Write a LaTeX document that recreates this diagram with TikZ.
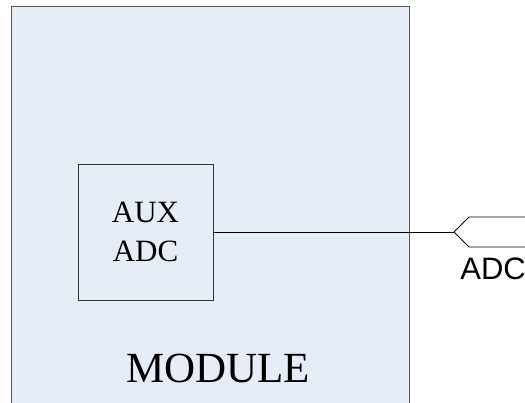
\documentclass[tikz,border=0pt]{standalone}
\usepackage{fontspec}
\setmainfont{Liberation Serif}
\newfontfamily\arialfont{Liberation Sans}
\usetikzlibrary{positioning}
\definecolor{modfill}{HTML}{E6EDF7}

\begin{document}
\begin{tikzpicture}[x=1pt, y=-1pt, line width=0.8pt]
	\useasboundingbox (0,0) rectangle (525,403);
	\draw [fill=modfill, draw=black!65] (11,6) rectangle (409,430);
	\node (aux) [draw=black!80, minimum width=135pt, minimum height=136pt, align=center, font=\fontsize{31}{39}\selectfont] at (145.5,232) {AUX\\ADC};
	\node (module) [anchor=base, inner sep=0pt, font=\fontsize{43}{43}\selectfont] at (218,382) {MODULE};
	\coordinate (tip) at (454,232);
	\draw (tip) -- ++(15,-15) -- (540,217);
	\draw (tip) -- ++(15,15) -- (540,247);
	\draw (aux) -- (tip);
	\node (adc) [anchor=base west, inner sep=0pt, font=\arialfont\fontsize{31}{31}\selectfont] at (460,280) {ADC};
\end{tikzpicture}
\end{document}
